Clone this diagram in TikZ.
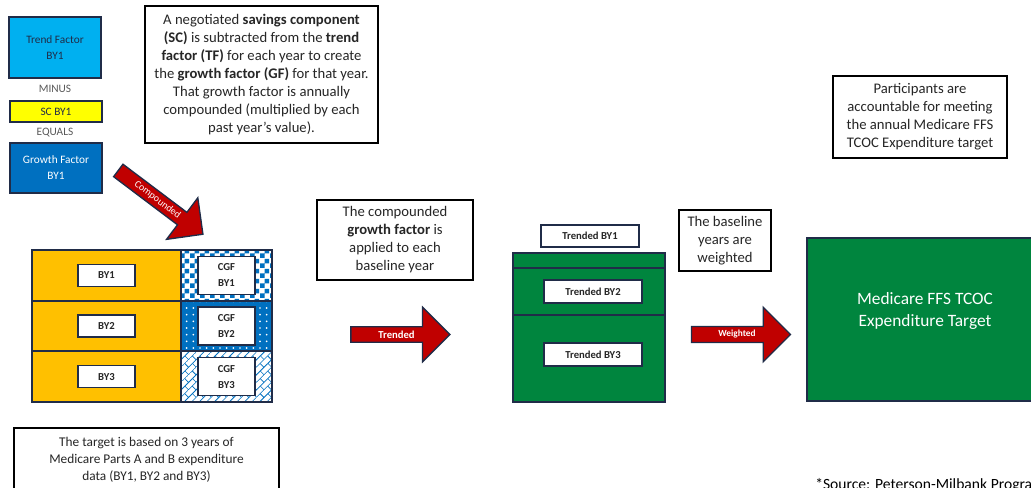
\documentclass[tikz,border=0pt]{standalone}
\usepackage{fontspec}
\setmainfont{Carlito}
\usetikzlibrary{shapes.arrows,patterns,patterns.meta,positioning}
\definecolor{navy}{RGB}{32,44,72}
\definecolor{tfblue}{RGB}{0,176,240}
\definecolor{scyel}{RGB}{255,255,0}
\definecolor{gfblue}{RGB}{0,112,192}
\definecolor{baseyel}{RGB}{255,192,0}
\definecolor{tgreen}{RGB}{0,133,62}
\definecolor{arrred}{RGB}{192,0,0}
\definecolor{txtgray}{RGB}{38,38,38}
\definecolor{lblgray}{RGB}{89,89,89}

% coarse checkerboard for CGF BY1
\pgfdeclarepatternformonly{cgfcheck}{\pgfpointorigin}{\pgfqpoint{7.5pt}{7.5pt}}{\pgfqpoint{7.5pt}{7.5pt}}{%
  \pgfpathrectangle{\pgfpointorigin}{\pgfqpoint{3.75pt}{3.75pt}}%
  \pgfpathrectangle{\pgfqpoint{3.75pt}{3.75pt}}{\pgfqpoint{3.75pt}{3.75pt}}%
  \pgfusepath{fill}}
% tilted bricks for CGF BY3
\pgfdeclarepattern{
  name=cgfbricks,
  type=uncolored,
  bottom left={\pgfpoint{-.1pt}{-.1pt}},
  top right={\pgfpoint{8.1pt}{8.1pt}},
  tile size={\pgfpoint{8pt}{8pt}},
  tile transformation={\pgftransformrotate{45}},
  code={
    \pgfsetlinewidth{0.6pt}
    \pgfpathmoveto{\pgfpoint{0pt}{0pt}}\pgfpathlineto{\pgfpoint{8pt}{0pt}}
    \pgfpathmoveto{\pgfpoint{0pt}{4pt}}\pgfpathlineto{\pgfpoint{8pt}{4pt}}
    \pgfpathmoveto{\pgfpoint{0pt}{0pt}}\pgfpathlineto{\pgfpoint{0pt}{4pt}}
    \pgfpathmoveto{\pgfpoint{4pt}{4pt}}\pgfpathlineto{\pgfpoint{4pt}{8pt}}
    \pgfusepath{stroke}
  }
}

\begin{document}
\begin{tikzpicture}[x=0.75pt,y=-0.75pt,
  every node/.style={font=\fontsize{8.5}{12}\selectfont},
  note/.style={draw=black,line width=1.3pt,fill=white,align=center,
               inner sep=2pt,text=txtgray,font=\fontsize{11}{13.5}\selectfont},
  tag/.style={draw=navy,line width=0.9pt,fill=white,align=center,inner sep=1pt,
              text=txtgray,font=\bfseries\fontsize{8}{12}\selectfont},
  cell/.style={draw=navy,line width=1.3pt,inner sep=0pt},
  factor/.style={draw=navy,line width=1.3pt,align=center,inner sep=1pt,
                 minimum width=69pt},
  redarrow/.style={single arrow,draw=navy,line width=1pt,fill=arrred,
                   text=white,inner sep=1pt,single arrow head extend=11pt},
  pat1/.style={preaction={fill=white},pattern=cgfcheck,pattern color=gfblue},
  pat2/.style={preaction={fill=gfblue},pattern={Dots[distance=5pt,radius=0.7pt]},
               pattern color=white},
  pat3/.style={preaction={fill=white},pattern=cgfbricks,pattern color=gfblue}]
  \clip (0,0) rectangle (1031,488);

  % growth factor build-up
  \node[factor,fill=tfblue,text=navy,minimum height=45.75pt] (tf) at (55,47.5)
       {Trend Factor\\BY1};
  \node[text=lblgray,font=\fontsize{8.5}{10}\selectfont] (minus) at (55,89) {MINUS};
  \node[factor,fill=scyel,text=navy,minimum height=15.75pt] (sc) at (56,111.5) {SC BY1};
  \node[text=lblgray,font=\fontsize{8.5}{10}\selectfont] (equals) at (55,133) {EQUALS};
  \node[factor,fill=gfblue,text=white,minimum height=37.5pt] (gf) at (56,168)
       {Growth Factor\\BY1};

  \node[note,minimum width=174.75pt,minimum height=102.75pt] (scnote) at (261.5,74.5)
       {A negotiated \textbf{savings component}\\
        \textbf{(SC)} is subtracted from the \textbf{trend}\\
        \textbf{factor (TF)} for each year to create\\
        the \textbf{growth factor (GF)} for that year.\\
        That growth factor is annually\\
        compounded (multiplied by each\\
        past year’s value).};

  \node[redarrow,rotate=-37,minimum height=79.5pt,minimum width=39pt,
        font=\fontsize{7.5}{9}\selectfont] (comp) at (157.5,200) {Compounded};

  % baseline years and compounded growth factors
  \foreach \yr/\yc in {1/275.3,2/326,3/376.7} {
    \node[cell,fill=baseyel,minimum width=111.75pt,minimum height=38pt]
         (base\yr) at (106.5,\yc) {};
    \node[tag,minimum width=42.75pt,minimum height=16.5pt] (by\yr) at (base\yr) {BY\yr};
    \node[cell,pat\yr,minimum width=68.25pt,minimum height=38pt]
         (cgfcell\yr) at (226.5,\yc) {};
    \node[tag,minimum width=42.75pt,minimum height=28.5pt] (cgf\yr) at (cgfcell\yr)
         {CGF\\BY\yr};
  }

  \node[note,font=\fontsize{10}{12.75}\selectfont,minimum width=198.75pt,
        minimum height=48pt] (basenote) at (146.5,460)
       {The target is based on 3 years of\\
        Medicare Parts A and B expenditure\\
        data (BY1, BY2 and BY3)};

  % trending
  \node[note,minimum width=117pt,minimum height=60pt] (cgfnote) at (395,240)
       {The compounded\\\textbf{growth factor} is\\applied to each\\baseline year};
  \node[redarrow,minimum height=74.25pt,minimum width=41pt,
        font=\bfseries\fontsize{8}{10}\selectfont] (trend) at (396.5,334.5) {Trended};

  \node[cell,fill=tgreen,minimum width=114pt,minimum height=11.25pt] (tby1) at (589,260.5) {};
  \node[cell,fill=tgreen,minimum width=114pt,minimum height=35.25pt] (tby2) at (589,291.5) {};
  \node[cell,fill=tgreen,minimum width=114pt,minimum height=65.25pt] (tby3) at (589,358.5) {};
  \node[tag,minimum width=73.5pt,minimum height=16.5pt] (ttag1) at (590,236) {Trended BY1};
  \node[tag,minimum width=73.5pt,minimum height=17.25pt] (ttag2) at (593,291.5) {Trended BY2};
  \node[tag,minimum width=73.5pt,minimum height=17.25pt] (ttag3) at (593,354.5) {Trended BY3};

  % weighting
  \node[note,minimum width=69pt,minimum height=45.75pt] (wnote) at (725,240.5)
       {The baseline\\years are\\weighted};
  \node[redarrow,minimum height=74.25pt,minimum width=41pt,
        font=\bfseries\fontsize{7}{9}\selectfont] (weight) at (737,334.5) {Weighted};

  \node[cell,fill=tgreen,minimum width=178.5pt,minimum height=122.25pt] (target)
       at (926,319.5) {};
  \node[text=white,align=center,font=\fontsize{13}{16.5}\selectfont] (targettxt)
       at (925,311) {Medicare FFS TCOC\\Expenditure Target};

  \node[note,minimum width=130.5pt,minimum height=61.5pt] (pnote) at (920,117)
       {Participants are\\accountable for meeting\\the annual Medicare FFS\\
        TCOC Expenditure target};

  \node[anchor=base west,inner sep=0pt,text=black,font=\fontsize{11.7}{13}\selectfont]
       (src) at (815,489.5) {*Source: Peterson-Milbank Program};
\end{tikzpicture}
\end{document}
